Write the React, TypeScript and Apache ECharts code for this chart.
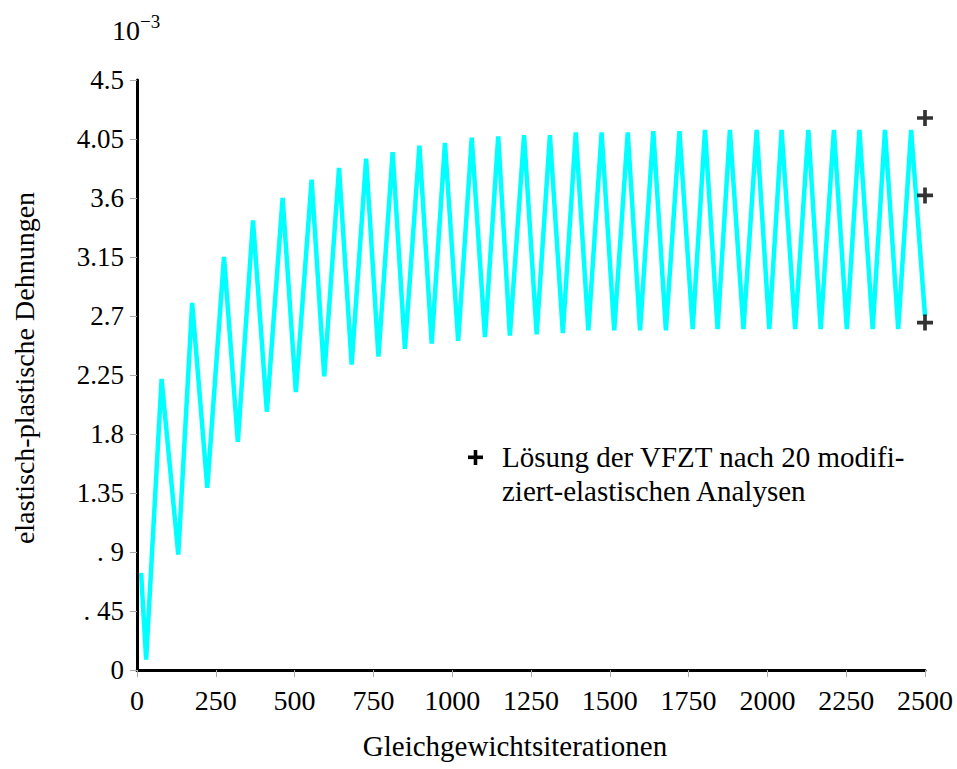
import React, { useEffect, useRef } from "react";
import * as echarts from "echarts";

const iterations = [
  13, 29, 78, 131, 175, 223, 276, 320, 368, 412, 462, 504, 554, 594, 641, 681,
  727, 766, 811, 850, 896, 935, 977, 1019, 1062, 1104, 1146, 1183, 1228, 1268,
  1310, 1351, 1392, 1432, 1474, 1514, 1557, 1596, 1638, 1678, 1721, 1763, 1802,
  1842, 1881, 1924, 1966, 2006, 2045, 2088, 2130, 2169, 2211, 2252, 2292, 2334,
  2373, 2415, 2456, 2500,
];
const strains = [
  0.74, 0.08, 2.22, 0.88, 2.8, 1.39, 3.15, 1.74, 3.43, 1.97, 3.6, 2.12, 3.74,
  2.24, 3.83, 2.33, 3.9, 2.39, 3.95, 2.45, 4.0, 2.49, 4.02, 2.51, 4.06, 2.54,
  4.07, 2.55, 4.08, 2.56, 4.08, 2.57, 4.1, 2.59, 4.1, 2.59, 4.1, 2.59, 4.11,
  2.59, 4.11, 2.6, 4.12, 2.6, 4.12, 2.6, 4.12, 2.6, 4.12, 2.6, 4.12, 2.6, 4.12,
  2.6, 4.12, 2.6, 4.12, 2.6, 4.12, 2.7,
];
const solutionIter = [2500, 2500, 2500];
const solutionValues = [4.21, 3.62, 2.65];
const yTickLabels = ["0", ". 45", ". 9", "1.35", "1.8", "2.25", "2.7", "3.15", "3.6", "4.05", "4.5"];
const legendLines = ["Lösung der VFZT nach 20 modifi-", "ziert-elastischen Analysen"];

const SERIF = "Liberation Serif";
const PLUS = "path://M5,0h3v5h5v3h-5v5h-3v-5h-5v-3h5z";

export default function App() {
  const ref = useRef<HTMLDivElement>(null);
  useEffect(() => {
    if (!ref.current) return;
    const chart = echarts.init(ref.current, null, { renderer: "svg" });
    const lineData = iterations.map((x, i) => [x, strains[i]]);
    const scatterData = solutionIter.map((x, i) => [x, solutionValues[i]]);
    chart.setOption({
      animation: false,
      backgroundColor: "#ffffff",
      grid: { left: 137, right: 32, top: 80, bottom: 99 },
      xAxis: {
        type: "value",
        min: 0,
        max: 2500,
        interval: 250,
        name: "Gleichgewichtsiterationen",
        nameLocation: "middle",
        nameGap: 61,
        nameTextStyle: { fontFamily: SERIF, fontSize: 29, color: "#000", padding: [0, 32, 0, 0] },
        axisLine: { show: true, lineStyle: { color: "#000", width: 3 } },
        axisTick: { show: true, length: 7, lineStyle: { color: "#aaa", width: 1 } },
        axisLabel: {
          fontFamily: SERIF,
          fontSize: 28,
          color: "#000",
          margin: 16,
          formatter: (v: number) => String(v),
        },
        splitLine: { show: false },
      },
      yAxis: {
        type: "value",
        min: 0,
        max: 4.5,
        interval: 0.45,
        name: "elastisch-plastische Dehnungen",
        nameLocation: "middle",
        nameGap: 99,
        nameRotate: 90,
        nameTextStyle: { fontFamily: SERIF, fontSize: 28, color: "#000", padding: [0, 0, 0, 14] },
        axisLine: { show: true, lineStyle: { color: "#000", width: 3 } },
        axisTick: { show: true, length: 7, lineStyle: { color: "#aaa", width: 1 } },
        axisLabel: {
          fontFamily: SERIF,
          fontSize: 27,
          color: "#000",
          margin: 13,
          formatter: (v: number) => yTickLabels[Math.round(v / 0.45)] ?? "",
        },
        splitLine: { show: false },
      },
      series: [
        {
          type: "line",
          data: lineData,
          showSymbol: false,
          symbol: "none",
          lineStyle: { color: "#00ffff", width: 4.5 },
          z: 2,
        },
        {
          type: "scatter",
          data: scatterData,
          symbol: PLUS,
          symbolSize: 16,
          itemStyle: { color: "#000" },
          clip: false,
          z: 3,
        },
      ],
      graphic: [
        {
          type: "text",
          left: 112,
          top: 12,
          style: {
            text: "{a|10}{b|−3}",
            rich: {
              a: { fontFamily: SERIF, fontSize: 28, fill: "#000", lineHeight: 32, verticalAlign: "bottom" },
              b: { fontFamily: SERIF, fontSize: 19, fill: "#000", lineHeight: 32, verticalAlign: "top", padding: [0, 0, 14, 0] },
            },
          },
        },
        {
          type: "group",
          left: 468,
          top: 450,
          children: [
            { type: "rect", shape: { x: 0, y: 5.5, width: 15, height: 3.6 }, style: { fill: "#000" } },
            { type: "rect", shape: { x: 5.7, y: 0, width: 3.6, height: 15 }, style: { fill: "#000" } },
          ],
        },
        {
          type: "text",
          left: 502,
          top: 440,
          style: {
            text: legendLines.join("\n"),
            fontFamily: SERIF,
            fontSize: 29,
            lineHeight: 34,
            fill: "#000",
          },
        },
      ],
    });
    return () => chart.dispose();
  }, []);
  return <div ref={ref} style={{ width: 957, height: 769, position: "absolute", left: 0, top: 0 }} />;
}
